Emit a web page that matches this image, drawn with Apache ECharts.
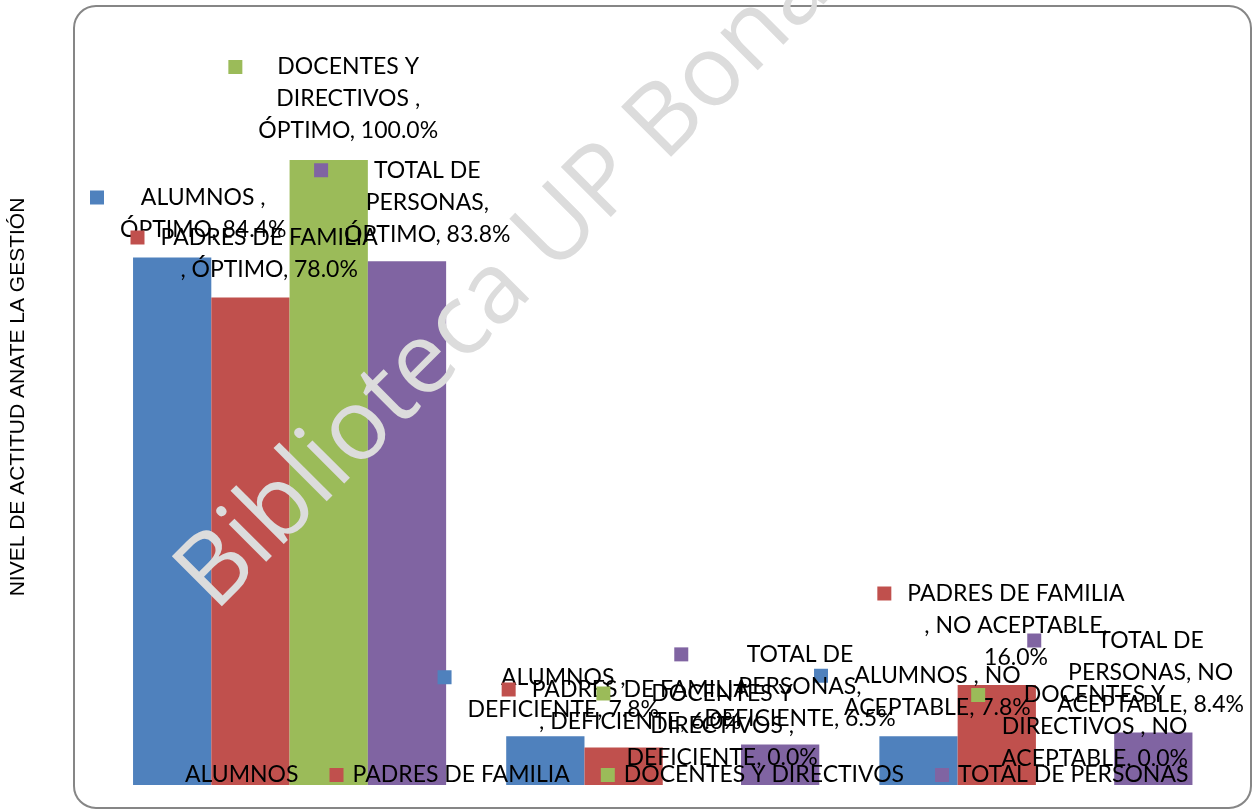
<!DOCTYPE html>
<html><head><meta charset="utf-8">
<script src="https://cdn.jsdelivr.net/npm/echarts@6/dist/echarts.min.js"></script>
<style>html,body{margin:0;padding:0;background:#fff}#c{width:1256px;height:810px}</style>
</head><body><div id="c"></div>
<script>
// ---- data ----
const categories = ['ÓPTIMO', 'DEFICIENTE', 'NO ACEPTABLE'];
const seriesNames = ['ALUMNOS ', 'PADRES DE FAMILIA ', 'DOCENTES Y DIRECTIVOS ', 'TOTAL DE PERSONAS'];
const alumnos = [84.4, 7.8, 7.8];
const padres = [78.0, 6.0, 16.0];
const docentes = [100.0, 0.0, 0.0];
const totalPersonas = [83.8, 6.5, 8.4];
const yAxisTitle = 'NIVEL DE ACTITUD ANATE LA GESTIÓN';
const watermarkText = 'Biblioteca UP Bonaterra';

// ---- styles ----
const seriesValues = [alumnos, padres, docentes, totalPersonas];
const colors = ['#4F81BD', '#C0504D', '#9BBB59', '#8064A2'];
const FONT = 'Lato';
const FS = 23;
const LH = 32;
const labelOffsets = [
  [[16, -12], [2.9, -11], [3.9, -12.5]],
  [[3.7, -12], [1.7, -10], [4.2, -11.5]],
  [[4.5, -13], [5.2, -11.5], [4.5, -10]],
  [[5.3, -11], [4.8, -10], [-17.7, -12]]
];

const ctx = document.createElement('canvas').getContext('2d');
ctx.font = FS + 'px ' + FONT;
const WRAP = ctx.measureText('PADRES DE FAMILIA').width * 1.03;
function wrap(text) {
  const words = text.split(' ').filter(w => w.length);
  const lines = []; let cur = '';
  for (const w of words) {
    const t = cur ? cur + ' ' + w : w;
    if (cur && ctx.measureText(t).width > WRAP) { lines.push(cur); cur = w; }
    else cur = t;
  }
  if (cur) lines.push(cur);
  return lines;
}

const series = seriesNames.map((name, si) => ({
  name: name,
  type: 'bar',
  barGap: 0,
  barCategoryGap: '16.1%',
  itemStyle: { color: colors[si] },
  data: seriesValues[si].map((v, ci) => ({
    value: v,
    label: { offset: labelOffsets[si][ci] }
  })),
  label: {
    show: true,
    position: 'top',
    distance: 0,
    formatter: p => {
      const txt = name + ', ' + categories[p.dataIndex] + ', ' + p.value.toFixed(1) + '%';
      const lines = wrap(txt);
      return lines.map((l, i) => (i === 0 ? '{k| }{g| }' : '{g2| }') + '{t|' + l + '}').join('\n');
    },
    rich: {
      k: { align: 'left', width: 14, height: 14, backgroundColor: colors[si], lineHeight: LH, fontSize: 10 },
      g: { align: 'left', width: 16, lineHeight: LH, fontSize: 10 },
      g2: { align: 'left', width: 30, lineHeight: LH, fontSize: 10 },
      t: { align: 'center', fontFamily: FONT, fontSize: FS, color: '#000', lineHeight: LH }
    }
  }
}));

const chart = echarts.init(document.getElementById('c'), null, { renderer: 'canvas' });
chart.setOption({
  animation: false,
  backgroundColor: '#fff',
  grid: { left: 103, right: 33.5, top: 160, bottom: 25, containLabel: false },
  xAxis: {
    type: 'category', data: categories,
    axisLine: { show: false }, axisTick: { show: false }, axisLabel: { show: false }
  },
  yAxis: {
    type: 'value', min: 0, max: 100, show: false, splitLine: { show: false }
  },
  legend: {
    left: 162, top: 763, padding: 0,
    icon: 'rect', itemWidth: 14, itemHeight: 14, itemGap: 31,
    formatter: n => n.trim(),
    textStyle: { fontFamily: FONT, fontSize: FS, color: '#000', lineHeight: 24, padding: [0, 0, 0, 4] },
    data: seriesNames
  },
  graphic: [
    {
      type: 'rect', z: 0, silent: true,
      shape: { x: 74, y: 6, width: 1177, height: 802, r: 22 },
      style: { fill: 'none', stroke: '#868686', lineWidth: 2 }
    },
    {
      type: 'text', z: 5, silent: true, x: 18, y: 397, rotation: Math.PI / 2,
      style: { text: yAxisTitle, font: '21px "Liberation Sans", Arial, sans-serif', fill: '#000', align: 'center', verticalAlign: 'middle' }
    },
    {
      type: 'text', z: 3, silent: true, x: 195, y: 593, rotation: Math.PI / 4,
      style: { text: watermarkText, font: '99px "Open Sans", sans-serif', fill: '#dcdcdc', align: 'left', verticalAlign: 'middle' }
    }
  ],
  series: series
});
</script>
</body></html>
